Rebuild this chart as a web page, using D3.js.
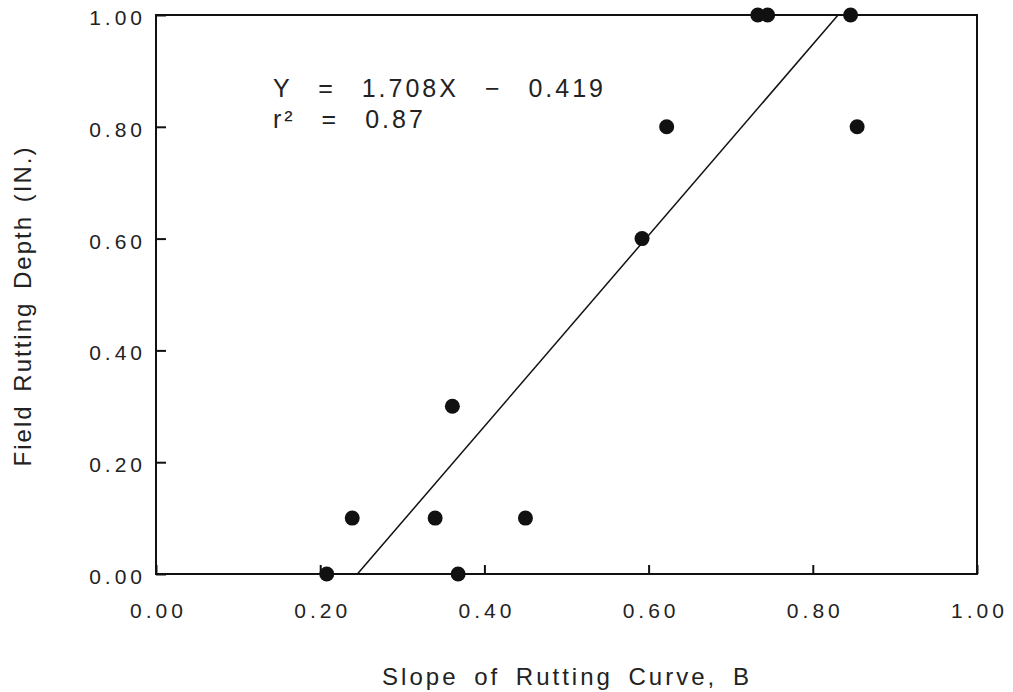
<!DOCTYPE html>
<html lang="en">
<head>
    <meta charset="UTF-8">
    <title>Field Rutting Depth vs Slope of Rutting Curve</title>
    <script src="https://d3js.org/d3.v7.min.js"></script>
    <style>
        body {
            margin: 0;
            background: #fff;
        }
        svg {
            display: block;
            font-family: "Liberation Sans", Arial, sans-serif;
        }
    </style>
</head>
<body>
<svg width="1013" height="692"></svg>

<script>
    // data
    const slopeB = [0.208, 0.239, 0.340, 0.361, 0.368, 0.450, 0.592, 0.622, 0.733, 0.745, 0.846, 0.854];
    const depth  = [0.00, 0.10, 0.10, 0.30, 0.00, 0.10, 0.60, 0.80, 1.00, 1.00, 1.00, 0.80];

    // regression Y = a*X + b
    const fitSlope = 1.708;
    const fitIntercept = -0.419;
    const fitText = ["Y = 1.708X \u2212 0.419", "r\u00B2 = 0.87"];

    const tickValues = [0.00, 0.20, 0.40, 0.60, 0.80, 1.00];
    const xTitle = "Slope of Rutting Curve, B";
    const yTitle = "Field Rutting Depth (IN.)";

    let svg = d3.select("svg");

    const x = d3.scaleLinear().domain([0, 1]).range([156, 977]);
    const y = d3.scaleLinear().domain([0, 1]).range([574, 15]);

    // frame
    svg.append("rect")
        .attr("x", x(0))
        .attr("y", y(1))
        .attr("width", x(1) - x(0))
        .attr("height", y(0) - y(1))
        .attr("fill", "none")
        .attr("stroke", "#111")
        .attr("stroke-width", 2);

    // x axis, ticks pointing inward
    let gx = svg.append("g")
        .attr("transform", `translate(0,${y(0)})`)
        .call(d3.axisBottom(x).tickValues(tickValues)
            .tickFormat(d3.format(".2f")).tickSize(-9).tickSizeOuter(0));
    gx.select(".domain").remove();
    gx.selectAll(".tick line").attr("stroke", "#111").attr("stroke-width", 2);
    gx.selectAll(".tick text")
        .attr("y", 44)
        .attr("dy", 0)
        .attr("dx", 2)
        .attr("fill", "#222")
        .style("font-size", "21px")
        .style("letter-spacing", "4px");

    // y axis
    let gy = svg.append("g")
        .attr("transform", `translate(${x(0)},0)`)
        .call(d3.axisLeft(y).tickValues(tickValues)
            .tickFormat(d3.format(".2f")).tickSize(-10).tickSizeOuter(0));
    gy.select(".domain").remove();
    gy.selectAll(".tick line").attr("stroke", "#111").attr("stroke-width", 2);
    gy.selectAll(".tick text")
        .attr("x", -10)
        .attr("dy", "0.45em")
        .attr("fill", "#222")
        .style("font-size", "21px")
        .style("letter-spacing", "4px");

    // regression line, clipped to the 0..1 depth range
    const x0 = (0 - fitIntercept) / fitSlope;
    const x1 = (1 - fitIntercept) / fitSlope;
    svg.append("line")
        .attr("x1", x(x0))
        .attr("y1", y(fitSlope * x0 + fitIntercept))
        .attr("x2", x(x1))
        .attr("y2", y(fitSlope * x1 + fitIntercept))
        .attr("stroke", "#111")
        .attr("stroke-width", 1.5);

    // points
    svg.append("g")
        .selectAll("circle")
        .data(d3.range(slopeB.length))
        .enter()
        .append("circle")
        .attr("cx", i => x(slopeB[i]))
        .attr("cy", i => y(depth[i]))
        .attr("r", 7.5)
        .attr("fill", "#111");

    // equation
    svg.append("g")
        .selectAll("text")
        .data(fitText)
        .enter()
        .append("text")
        .attr("x", 273)
        .attr("y", (d, i) => 97 + i * 31)
        .attr("fill", "#222")
        .style("font-size", "25px")
        .style("letter-spacing", "3px")
        .style("word-spacing", "16px")
        .text(d => d);

    // axis titles
    svg.append("text")
        .attr("x", 567)
        .attr("y", 685)
        .attr("text-anchor", "middle")
        .attr("fill", "#222")
        .style("font-size", "24px")
        .style("letter-spacing", "3px")
        .style("word-spacing", "6px")
        .text(xTitle);

    svg.append("text")
        .attr("transform", "translate(31,306) rotate(-90)")
        .attr("text-anchor", "middle")
        .attr("fill", "#222")
        .style("font-size", "24px")
        .style("letter-spacing", "2px")
        .style("word-spacing", "4px")
        .text(yTitle);
</script>
</body>
</html>
